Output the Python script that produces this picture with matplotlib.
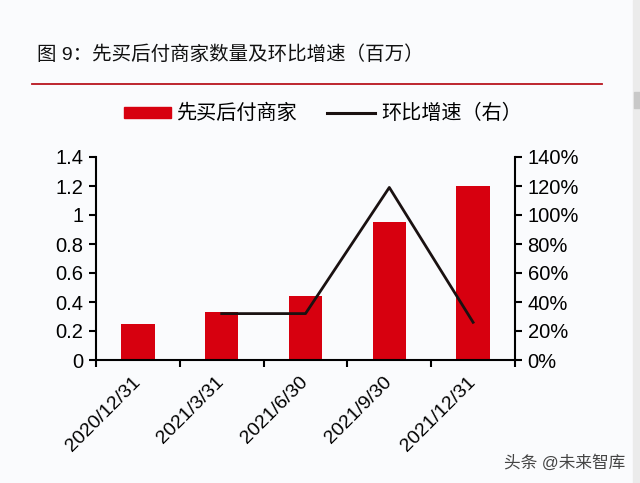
import matplotlib
matplotlib.use("Agg")
import matplotlib.pyplot as plt
from matplotlib.patches import Rectangle
from matplotlib.lines import Line2D
from matplotlib.ticker import FixedLocator

plt.rcParams['font.family'] = ['Liberation Sans', 'Noto Sans CJK SC', 'DejaVu Sans']

categories = ["2020/12/31", "2021/3/31", "2021/6/30", "2021/9/30", "2021/12/31"]
merchants = [0.25, 0.33, 0.44, 0.95, 1.20]
growth = [None, 0.32, 0.32, 1.19, 0.26]
left_ticks = [0, 0.2, 0.4, 0.6, 0.8, 1.0, 1.2, 1.4]
left_labels = ["0", "0.2", "0.4", "0.6", "0.8", "1", "1.2", "1.4"]
right_ticks = [0, 0.2, 0.4, 0.6, 0.8, 1.0, 1.2, 1.4]
right_labels = ["0%", "20%", "40%", "60%", "80%", "100%", "120%", "140%"]

bg = '#fafbfd'
red = '#d7000f'
fig = plt.figure(figsize=(6.4, 4.83), dpi=100, facecolor=bg)

ax = fig.add_axes([96/640, 1-360/483, (515-96)/640, (360-157)/483])
ax.set_facecolor(bg)
x = list(range(len(categories)))
ax.bar(x, merchants, width=0.4, color=red, zorder=2)
ax.set_xlim(-0.5, len(categories)-0.5)
ax.set_ylim(0, 1.4)
ax.set_yticks(left_ticks)
ax.set_yticklabels(left_labels, fontsize=14.5)
ax.xaxis.set_major_locator(FixedLocator([i - 0.5 for i in range(len(categories)+1)]))
ax.xaxis.set_ticklabels([])
ax.xaxis.set_minor_locator(FixedLocator(x))
ax.set_xticklabels(categories, minor=True, rotation=45, ha='right', va='center',
                   rotation_mode='anchor', fontsize=14)
ax.tick_params(axis='x', which='major', direction='out', length=5, width=1.5, color='black')
ax.tick_params(axis='x', which='minor', length=0, pad=14)
ax.tick_params(axis='y', direction='out', length=5, width=1.5, pad=4)
for s in ['top', 'right']:
    ax.spines[s].set_visible(False)
for s in ['left', 'bottom']:
    ax.spines[s].set_linewidth(1.5)

ax2 = ax.twinx()
gx = [i for i, g in zip(x, growth) if g is not None]
gy = [g for g in growth if g is not None]
ax2.plot(gx, gy, color='#1a1111', lw=2.0, zorder=3)
ax2.set_ylim(0, 1.4)
ax2.set_yticks(right_ticks)
ax2.set_yticklabels(right_labels, fontsize=14.5)
ax2.tick_params(axis='y', direction='out', length=5, width=1.5, pad=4)
for s in ['top', 'left', 'bottom']:
    ax2.spines[s].set_visible(False)
ax2.spines['right'].set_linewidth(1.5)

# title and rule
fig.text(37/640, 1-55/483, "图 9：先买后付商家数量及环比增速（百万）", fontsize=14,
         va='center', ha='left', color='#111111')
fig.add_artist(Line2D([32/640, 602/640], [1-84/483, 1-84/483], color='#b8141e', lw=1.3))

# legend
fig.add_artist(Rectangle((124/640, 1-118/483), 47/640, 11/483, color=red))
fig.text(176/640, 1-113/483, "先买后付商家", fontsize=14.5, va='center', ha='left')
fig.add_artist(Line2D([327/640, 375/640], [1-113/483, 1-113/483], color='#1a1111', lw=2.2))
fig.text(381/640, 1-113/483, "环比增速（右）", fontsize=14.5, va='center', ha='left')

# watermark
fig.text(625/640, 1-463/483, "头条 @未来智库", fontsize=12, va='center', ha='right', color='#444444')

# scrollbar strip
fig.add_artist(Rectangle((633/640, 0), 7/640, 1, color='#ebebeb'))
fig.add_artist(Rectangle((634/640, 1-108/483), 6/640, 16/483, color='#c8c8c8'))

fig.savefig("out.png", dpi=100, facecolor=bg)
